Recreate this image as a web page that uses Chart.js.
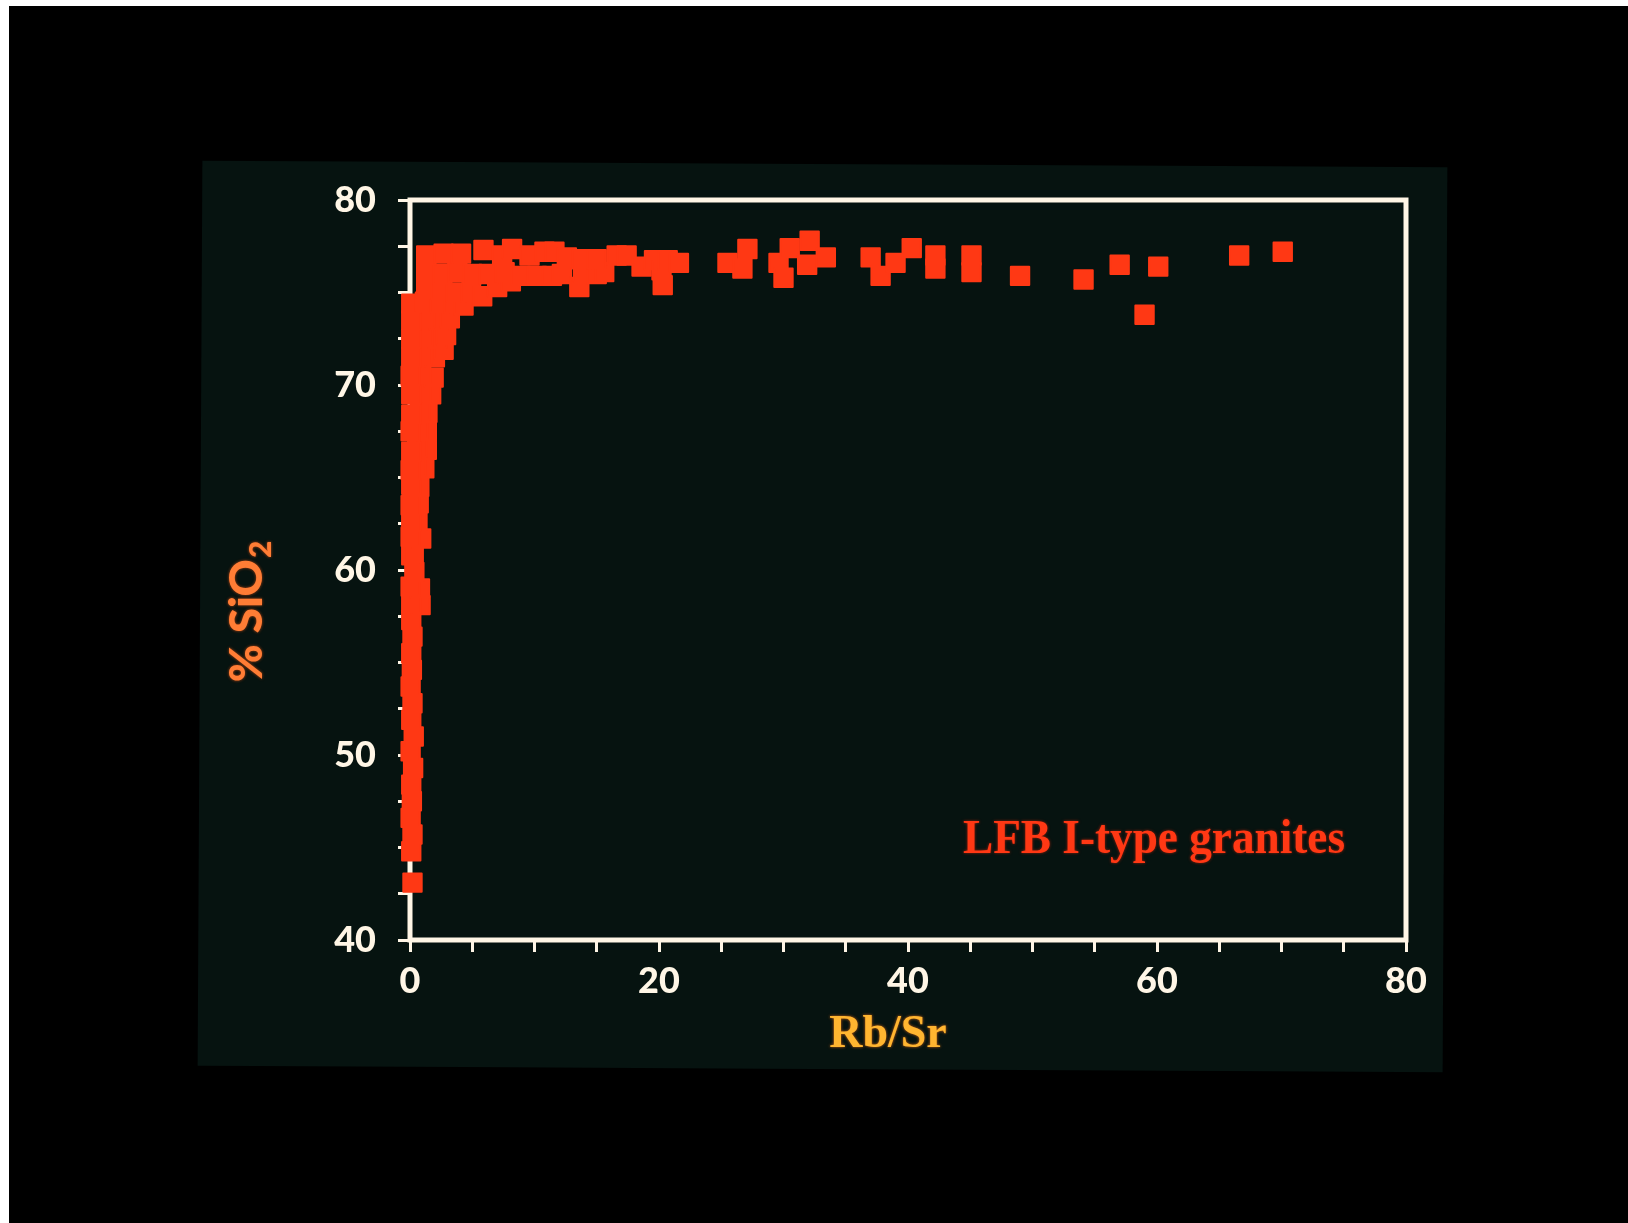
<!DOCTYPE html>
<html>
<head>
<meta charset="utf-8">
<title>LFB I-type granites: SiO2 vs Rb/Sr</title>
<script src="https://cdn.jsdelivr.net/npm/chart.js"></script>
<style>
  html, body { margin: 0; padding: 0; background: #fff; overflow: hidden; }
  #slide { position: absolute; left: 9px; top: 6px; width: 1619px; height: 1217px; background: #000; }
  #panel { position: absolute; left: 200px; top: 164px; width: 1245px; height: 905px; background: #061310; transform: rotate(0.3deg); }
  #wrap { position: absolute; left: 0; top: 0; width: 1628px; height: 1223px; }
</style>
</head>
<body>
<div id="slide"></div>
<div id="panel"></div>
<div id="wrap"><canvas id="scatter"></canvas></div>
<script>
// Rb/Sr (x) and % SiO2 (y), one entry per sample
const rbSr = [
  // low-silica stem at Rb/Sr ~ 0
  0.2, 0.1, 0.2, 0.05, 0.15, 0.1, 0.25, 0.05, 0.3, 0.1, 0.2, 0.05, 0.15, 0.1, 0.2, 0.1,
  0.85, 0.1, 0.8, 0.05, 0.35, 0.1, 0.3, 0.9, 0.05, 0.6, 0.1, 0.7, 0.05, 0.75, 0.1,
  1.15, 0.5, 0.05, 1.35, 0.6, 0.1, 1.35, 0.7, 0.05, 1.4, 0.8, 0.1, 1.7, 0.9, 0.1,
  1.9, 0.9, 0.05, 2.0, 2.7, 1.0, 0.1, 2.2, 2.9, 1.1, 0.1, 2.3, 3.2, 1.2, 0.1,
  0.1, 1.2, 2.4, 3.5, 4.3,
  // knee
  1.3, 2.5, 3.7, 4.9, 5.8, 7.0, 8.1,
  1.3, 2.6, 3.8, 5.0, 6.3, 7.6, 8.9, 10.2, 11.4, 12.2, 13.6, 13.9, 15.0, 15.6,
  1.3, 2.7, 4.1, 5.9, 7.4, 8.2, 9.6, 10.8, 11.6, 12.6, 13.8, 15.0, 16.6, 17.4, 18.6, 19.6, 20.3, 20.2, 20.7, 21.6,
  // high Rb/Sr tail
  25.5, 26.7, 27.1, 29.6, 30.0, 30.5, 31.9, 32.1, 33.4, 37.0, 37.8, 39.0, 40.3, 42.2, 42.2,
  45.1, 45.1, 49.0, 54.1, 57.0, 59.0, 60.1, 66.6, 70.1
];
const sio2 = [
  43.1, 44.8, 45.7, 46.6, 47.5, 48.4, 49.3, 50.2, 51.0, 51.9, 52.8, 53.7, 54.6, 55.5, 56.4, 57.3,
  58.1, 58.2, 59.0, 59.1, 59.9, 60.8, 60.9, 61.7, 61.8, 62.7, 62.6, 63.6, 63.5, 64.5, 64.6,
  65.5, 65.6, 65.4, 66.5, 66.6, 66.4, 67.5, 67.6, 67.5, 68.5, 68.6, 68.4, 69.5, 69.6, 69.5,
  70.4, 70.6, 70.5, 71.5, 71.9, 71.6, 71.5, 72.5, 72.7, 72.6, 72.5, 73.5, 73.6, 73.6, 73.5,
  74.4, 74.5, 74.4, 74.4, 74.3,
  75.2, 75.1, 75.0, 75.0, 74.8, 75.3, 75.6,
  76.1, 76.0, 76.1, 76.0, 76.0, 76.1, 75.9, 75.9, 75.9, 76.0, 75.3, 76.1, 76.0, 76.1,
  77.0, 77.1, 77.1, 77.3, 77.0, 77.35, 77.0, 77.2, 77.2, 76.9, 76.8, 76.8, 77.0, 77.0, 76.4, 76.75, 75.4, 76.2, 76.75, 76.6,
  76.6, 76.3, 77.35, 76.6, 75.8, 77.4, 76.5, 77.8, 76.9, 76.9, 75.9, 76.6, 77.4, 77.0, 76.3,
  77.0, 76.1, 75.9, 75.7, 76.5, 73.8, 76.4, 77.0, 77.2
];

const xTickLabels = [0, 20, 40, 60, 80];
const yTickLabels = [40, 50, 60, 70, 80];

const xTitle = 'Rb/Sr';
const yTitle = '% SiO';
const yTitleSub = '2';
const seriesLabel = 'LFB I-type granites';

const points = rbSr.map((x, i) => ({ x: x, y: sio2[i] }));

const INK = '#fff6e6';
const RED = 'rgb(255, 56, 20)';
const tickFont = { family: 'Lato', size: 36, weight: 900 };

// white box round the plot area, under the points
const frame = {
  id: 'frame',
  beforeDatasetsDraw(chart) {
    const a = chart.chartArea;
    const c = chart.ctx;
    c.save();
    c.strokeStyle = INK;
    c.lineWidth = 5;
    c.strokeRect(a.left, a.top, a.right - a.left, a.bottom - a.top);
    c.restore();
    c.lineJoin = 'round';
  },
  afterDatasetsDraw(chart) {
    chart.ctx.lineJoin = 'miter';
  }
};

// axis titles and the series caption
const labels = {
  id: 'labels',
  afterDraw(chart) {
    const c = chart.ctx;
    c.save();

    c.fillStyle = '#ffb530';
    c.shadowColor = 'rgba(255, 120, 20, 0.8)';
    c.shadowBlur = 3;
    c.font = 'bold 46px "Liberation Serif"';
    c.textAlign = 'center';
    c.textBaseline = 'middle';
    c.fillText(xTitle, 888, 1035);

    c.fillStyle = RED;
    c.shadowColor = 'rgba(255, 40, 10, 0.6)';
    c.font = 'bold 48px "Liberation Serif"';
    c.textAlign = 'left';
    c.textBaseline = 'alphabetic';
    c.fillText(seriesLabel, 963, 853, 382);

    c.translate(262, 612);
    c.rotate(-Math.PI / 2);
    c.fillStyle = '#ff7d35';
    c.shadowColor = 'rgba(255, 90, 20, 0.7)';
    c.font = '900 46px Lato';
    const mainW = c.measureText(yTitle).width;
    c.font = '900 30px Lato';
    const subW = c.measureText(yTitleSub).width;
    const start = -(mainW + subW) / 2;
    c.textAlign = 'left';
    c.textBaseline = 'alphabetic';
    c.font = '900 46px Lato';
    c.fillText(yTitle, start, 0);
    c.font = '900 30px Lato';
    c.fillText(yTitleSub, start + mainW + 1, 9);

    c.restore();
  }
};

new Chart(document.getElementById('scatter'), {
  type: 'scatter',
  data: {
    datasets: [{
      label: seriesLabel,
      data: points,
      pointStyle: 'rect',
      pointRadius: 13,
      pointHoverRadius: 13,
      backgroundColor: RED,
      borderColor: RED,
      borderWidth: 2,
      clip: false
    }]
  },
  options: {
    responsive: true,
    maintainAspectRatio: false,
    animation: false,
    events: [],
    layout: { autoPadding: false, padding: { top: 200, right: 222, left: 0, bottom: 0 } },
    plugins: { legend: { display: false }, tooltip: { enabled: false } },
    scales: {
      x: {
        type: 'linear',
        min: 0,
        max: 80,
        afterFit(scale) { scale.height = 283; },
        border: { display: false },
        grid: { drawOnChartArea: false, color: INK, lineWidth: 3, tickLength: 12 },
        ticks: {
          stepSize: 5,
          autoSkip: false,
          maxRotation: 0,
          padding: 8,
          color: INK,
          font: tickFont,
          callback: v => xTickLabels.includes(v) ? String(v) : ''
        }
      },
      y: {
        min: 40,
        max: 80,
        afterFit(scale) { scale.width = 410; },
        border: { display: false },
        grid: { drawOnChartArea: false, color: INK, lineWidth: 3, tickLength: 12 },
        ticks: {
          stepSize: 2.5,
          autoSkip: false,
          padding: 22,
          color: INK,
          font: tickFont,
          callback: v => yTickLabels.includes(v) ? String(v) : ''
        }
      }
    }
  },
  plugins: [frame, labels]
});
</script>
</body>
</html>
